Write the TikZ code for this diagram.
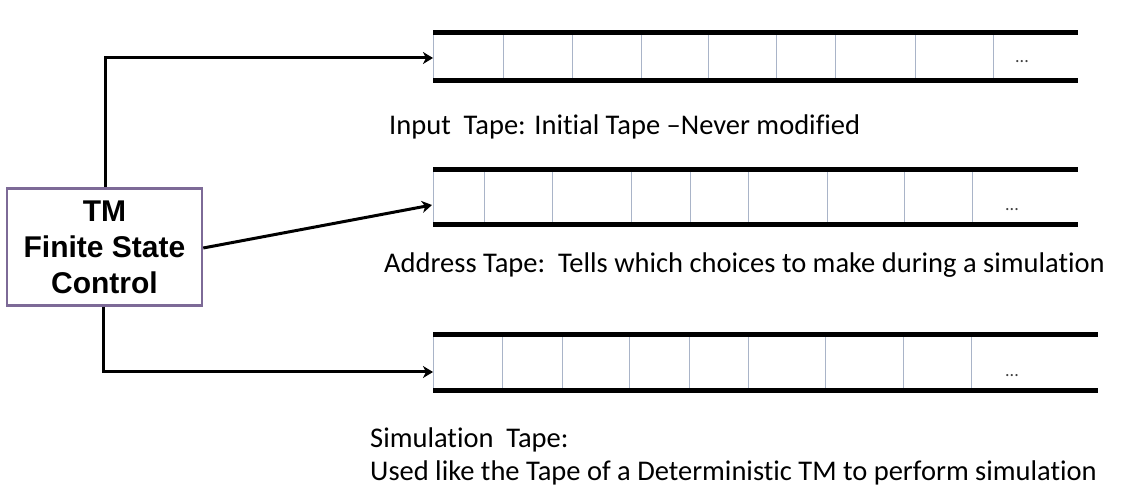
\documentclass[tikz,border=0pt]{standalone}
\usepackage{fontspec}
\setmainfont{Carlito}[RawFeature=-liga]
\newfontfamily\boxfont{Liberation Sans}
\usetikzlibrary{arrows.meta}
\definecolor{boxc}{HTML}{7D6A97}
\definecolor{cellc}{HTML}{A9B4C8}
\tikzset{
  rail/.style={line width=5pt, black},
  cell/.style={line width=1pt, cellc},
  conn/.style={line width=3pt, black, -{Stealth[length=10pt,width=12pt,inset=3pt]}},
  fsc/.style={draw=boxc, line width=2.5pt, minimum width=195pt, minimum height=117pt,
    inner sep=0pt, align=center, font=\boxfont\bfseries\fontsize{30}{36}\selectfont},
  lbl/.style={anchor=west, inner sep=0pt, font=\fontsize{28.5}{32}\selectfont},
  dots/.style={inner sep=0pt, text=black!75, font=\fontsize{18}{18}\selectfont}
}
\newcommand\tapedraw[5]{%
  \foreach \d in {#5} {\draw[cell] (\d,#1) -- (\d,#2);}
  \draw[cell] (#3,#1) -- (#3,#2);
  \draw[rail] (#3,#1) -- (#4,#1);
  \draw[rail] (#3,#2) -- (#4,#2);
}
\begin{document}
\begin{tikzpicture}[x=1pt,y=-1pt]
\useasboundingbox (0,0) rectangle (1125,502);
% tapes
\tapedraw{33}{81}{433}{1078}{503,572,641,708,776,835,915,993}
\tapedraw{170}{225}{433}{1078}{484,552,631,690,748,827,904,972}
\tapedraw{335}{391}{433}{1098}{502,562,629,689,748,825,903,971}
\node[dots] (e1) at (1022,62) {...};
\node[dots] (e2) at (1012,210) {...};
\node[dots] (e3) at (1012,376) {...};
% tape entry points
\coordinate (t1) at (433,58);
\coordinate (t2) at (432,205);
\coordinate (t3) at (433,372);
% control box
\node[fsc] (fsc) at (104.5,247) {TM\\Finite State\\Control};
% connectors
\draw[conn] (fsc.north -| 105,0) |- (t1);
\draw[conn] (fsc.east) ++(0,1) -- (t2);
\draw[conn] (fsc.south -| 103,0) |- (t3);
% labels
\node[lbl] (l1) at (389,127) {Input\ \ Tape: Initial Tape –Never modified};
\node[lbl] (l2) at (384,265) {Address Tape:\ \ Tells which choices to make during a simulation};
\node[lbl] (l3) at (370,440) {Simulation\ \ Tape:};
\node[lbl] (l4) at (370,473) {Used like the Tape of a Deterministic TM to perform simulation};
\end{tikzpicture}
\end{document}
